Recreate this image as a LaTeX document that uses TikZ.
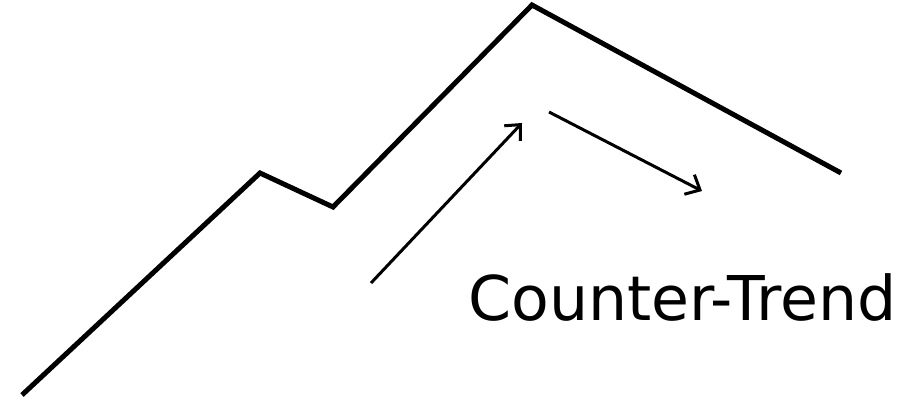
\documentclass[tikz,border=0pt]{standalone}
\usepackage{fontspec}
\setmainfont{DejaVu Sans}
\usetikzlibrary{arrows.meta}
\begin{document}
\begin{tikzpicture}[x=1pt,y=-1pt,
  trend/.style={line width=5pt,line join=miter,line cap=butt},
  move/.style={line width=3pt,-{Straight Barb[length=12pt,width=22pt,line width=3pt]}}]
\useasboundingbox (0,0) rectangle (907,399);
\coordinate (p0) at (22,395);
\coordinate (p1) at (260,173);
\coordinate (p2) at (333,207);
\coordinate (p3) at (532,5);
\coordinate (p4) at (841,173);
\draw[trend] (p0) -- (p1) -- (p2) -- (p3) -- (p4);
\coordinate (a1s) at (371,283);
\coordinate (a1e) at (522,123);
\coordinate (a2s) at (549,112);
\coordinate (a2e) at (702,191);
\draw[move] (a1s) -- (a1e);
\draw[move] (a2s) -- (a2e);
\node[anchor=base west,inner sep=0pt,font=\fontsize{61.7}{70}\selectfont] (lbl) at (468,320) {Counter-Trend};
\end{tikzpicture}
\end{document}
